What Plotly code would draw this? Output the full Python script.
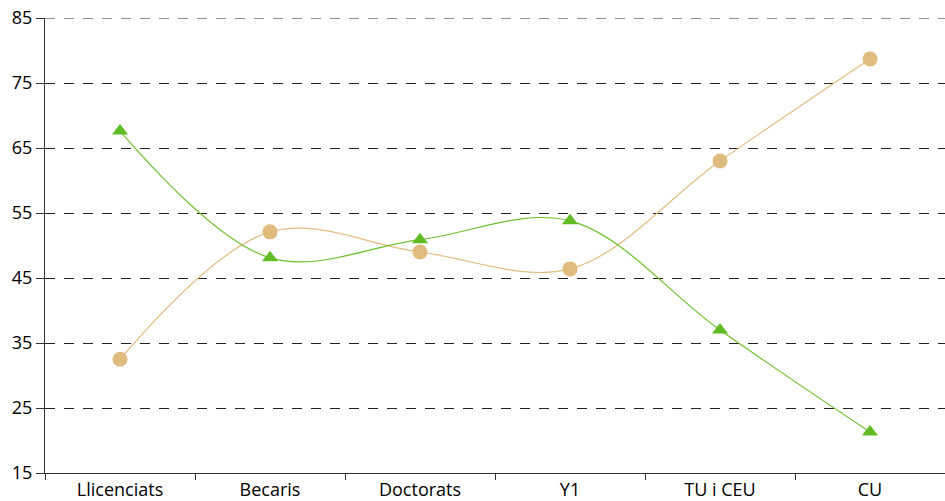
import plotly.graph_objects as go

categories = ["Llicenciats", "Becaris", "Doctorats", "Y1", "TU i CEU", "CU"]
green_values = [67.6, 48.1, 50.9, 53.8, 37.0, 21.3]
orange_values = [32.5, 52.1, 49.0, 46.4, 63.0, 78.7]
y_ticks = [15, 25, 35, 45, 55, 65, 75, 85]
y_min, y_max = 15, 85

fig = go.Figure()
fig.add_trace(go.Scatter(
    x=categories, y=orange_values, mode="lines+markers",
    line=dict(color="#e2bd80", width=1.2, shape="spline", smoothing=1.0),
    marker=dict(symbol="circle", size=15, color="#e0bb7e"),
    showlegend=False, cliponaxis=False,
))
fig.add_trace(go.Scatter(
    x=categories, y=green_values, mode="lines+markers",
    line=dict(color="#6cc02e", width=1.2, shape="spline", smoothing=1.0),
    marker=dict(symbol="triangle-up", size=14, color="#63bb24"),
    showlegend=False, cliponaxis=False,
))

# top grid line (plotly omits grid lines at the range edge)
fig.add_shape(type="line", xref="paper", yref="y", x0=0, x1=1, y0=y_max, y1=y_max,
              line=dict(color="#222", width=1, dash="10px,9px"), layer="below")

fig.update_layout(
    width=945, height=501,
    margin=dict(l=45, r=0, t=18, b=28, autoexpand=False),
    paper_bgcolor="white", plot_bgcolor="white",
    font=dict(family="Open Sans, DejaVu Sans, sans-serif", color="black"),
    hovermode=False,
)
fig.update_xaxes(
    type="category", range=[-0.5, 5.5], automargin=False,
    showline=True, linecolor="#333", linewidth=1,
    ticks="outside", tickson="boundaries", ticklen=6, tickcolor="#333",
    tickfont=dict(size=18), showgrid=False,
)
fig.update_yaxes(
    range=[y_min, y_max], tickvals=y_ticks, automargin=False,
    ticklabeloverflow="allow",
    showline=True, linecolor="#333", linewidth=1,
    ticks="outside", ticklen=8, tickcolor="#333",
    tickfont=dict(size=18),
    showgrid=True, gridcolor="#222", griddash="10px,9px", gridwidth=1,
    zeroline=False,
)

fig.write_html(
    "out.html",
    config={"displayModeBar": False, "staticPlot": True},
    post_script="document.body.style.margin='0';document.body.style.overflow='hidden';",
)
